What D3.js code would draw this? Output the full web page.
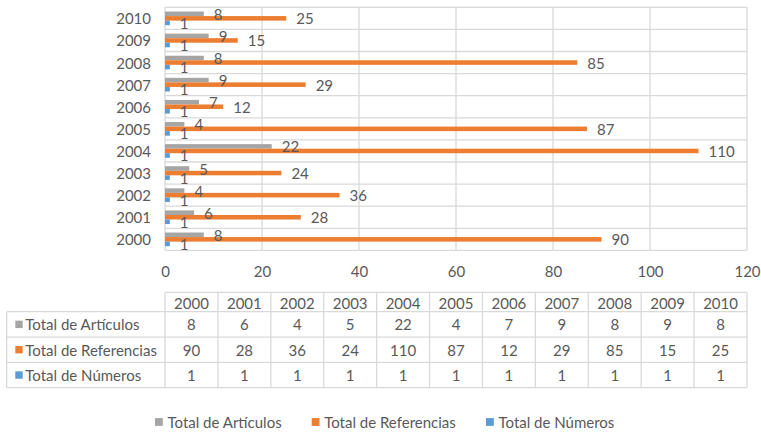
<!DOCTYPE html>
<html><head><meta charset="utf-8">
<script src="https://cdn.jsdelivr.net/npm/d3@7"></script>
<style>
html,body{margin:0;padding:0;background:#fff;}
svg{display:block;font-family:Lato, "Open Sans", sans-serif;}
</style></head>
<body>
<svg id="chart" width="761" height="432"></svg>
<script>
const years = ["2000","2001","2002","2003","2004","2005","2006","2007","2008","2009","2010"];
const articulos = [8,6,4,5,22,4,7,9,8,9,8];
const referencias = [90,28,36,24,110,87,12,29,85,15,25];
const numeros = [1,1,1,1,1,1,1,1,1,1,1];
const seriesNames = ["Total de Artículos","Total de Referencias","Total de Números"];
const seriesValues = [articulos, referencias, numeros];
const seriesColors = ["#A5A5A5","#ED7D31","#5B9BD5"];
const xTicks = [0,20,40,60,80,100,120];

const svg = d3.select("#chart");
const textColor = "#595959", gridColor = "#D9D9D9";
const L = 165, R = 747, T = 7.3, B = 250.4;
const fs = 15;

const x = d3.scaleLinear().domain([0,120]).range([L,R]);
const y0 = d3.scaleBand().domain(years.slice().reverse()).range([T,B]).padding(0);
const y1 = d3.scaleBand().domain(seriesNames).range([0,y0.bandwidth()]).paddingInner(0).paddingOuter(0.93);
const color = d3.scaleOrdinal().domain(seriesNames).range(seriesColors);

// gridlines
const grid = svg.append("g");
grid.selectAll("line.v").data(xTicks).join("line")
  .attr("x1",d=>x(d)).attr("x2",d=>x(d)).attr("y1",T).attr("y2",B)
  .attr("stroke",gridColor).attr("stroke-width",1.3);
const bounds = years.map(yr=>y0(yr)).concat([B]);
grid.selectAll("line.h").data(bounds).join("line")
  .attr("x1",L).attr("x2",R).attr("y1",d=>d).attr("y2",d=>d)
  .attr("stroke",gridColor).attr("stroke-width",1.3);

// x axis labels
const xAxis = d3.axisBottom(x).tickValues(xTicks).tickSize(0).tickPadding(0);
const gx = svg.append("g").attr("transform",`translate(0,${B})`).call(xAxis);
gx.select(".domain").remove();
gx.selectAll("text").attr("fill",textColor).style("font-size",fs+"px").style("font-family","Lato")
  .attr("dy",null).attr("y",20.5).attr("dominant-baseline","central");

// y axis labels
const yAxis = d3.axisLeft(y0).tickSize(0).tickPadding(0);
const gy = svg.append("g").attr("transform",`translate(${L-14},0)`).call(yAxis);
gy.select(".domain").remove();
gy.selectAll("text").attr("fill",textColor).style("font-size",fs+"px").style("font-family","Lato")
  .attr("dy",null).attr("dominant-baseline","central");

// bars
const rows = [];
years.forEach((yr,i)=>seriesNames.forEach((s,j)=>rows.push({year:yr,series:s,value:seriesValues[j][i]})));
const gb = svg.append("g");
gb.selectAll("rect").data(rows).join("rect")
  .attr("x",x(0)).attr("y",d=>y0(d.year)+y1(d.series))
  .attr("width",d=>x(d.value)-x(0)).attr("height",y1.bandwidth())
  .attr("fill",d=>color(d.series));
gb.selectAll("text").data(rows).join("text")
  .attr("x",d=>x(d.value)+10).attr("y",d=>y0(d.year)+y1(d.series)+y1.bandwidth()/2)
  .attr("dominant-baseline","central").attr("fill",textColor).style("font-size",fs+"px")
  .text(d=>d.value);

// data table
const tx = d3.scaleBand().domain(years).range([L,R]);
const tL = 6.7, hTop = 292.3, hBot = 311.7, rowH = 25.33;
const tb = svg.append("g");
const lineAttrs = s=>s.attr("stroke",gridColor).attr("stroke-width",1.3);
lineAttrs(tb.append("line").attr("x1",L).attr("x2",R).attr("y1",hTop).attr("y2",hTop));
const rowLines = [0,1,2,3].map(k=>hBot+k*rowH);
lineAttrs(tb.selectAll("line.r").data(rowLines).join("line").attr("class","r")
  .attr("x1",tL).attr("x2",R).attr("y1",d=>d).attr("y2",d=>d));
const colLines = years.map(yr=>tx(yr)).concat([R]);
lineAttrs(tb.selectAll("line.c").data(colLines).join("line").attr("class","c")
  .attr("x1",d=>d).attr("x2",d=>d).attr("y1",hTop).attr("y2",rowLines[3]));
lineAttrs(tb.append("line").attr("x1",tL).attr("x2",tL).attr("y1",hBot).attr("y2",rowLines[3]));
tb.selectAll("text.h").data(years).join("text").attr("class","h")
  .attr("x",d=>tx(d)+tx.bandwidth()/2).attr("y",(hTop+hBot)/2+0.5)
  .attr("text-anchor","middle").attr("dominant-baseline","central")
  .attr("fill",textColor).style("font-size",fs+"px").text(d=>d);
seriesNames.forEach((s,j)=>{
  const cy = hBot + j*rowH + rowH/2;
  tb.append("rect").attr("x",15.3).attr("y",cy-3.7).attr("width",7.4).attr("height",7.4).attr("fill",seriesColors[j]);
  tb.append("text").attr("x",25.3).attr("y",cy).attr("dominant-baseline","central")
    .attr("fill",textColor).style("font-size",fs+"px").text(s);
  tb.selectAll("text.v"+j).data(years).join("text").attr("class","v"+j)
    .attr("x",d=>tx(d)+tx.bandwidth()/2).attr("y",cy)
    .attr("text-anchor","middle").attr("dominant-baseline","central")
    .attr("fill",textColor).style("font-size",fs+"px")
    .text((d,i)=>seriesValues[j][i]);
});

// legend
const legX = [155, 311.7, 486];
const lg = svg.append("g");
seriesNames.forEach((s,j)=>{
  lg.append("rect").attr("x",legX[j]).attr("y",422-3.9).attr("width",7.8).attr("height",7.8).attr("fill",seriesColors[j]);
  lg.append("text").attr("x",legX[j]+12.5).attr("y",422).attr("dominant-baseline","central")
    .attr("fill",textColor).style("font-size",fs+"px").text(s);
});
</script>
</body></html>
